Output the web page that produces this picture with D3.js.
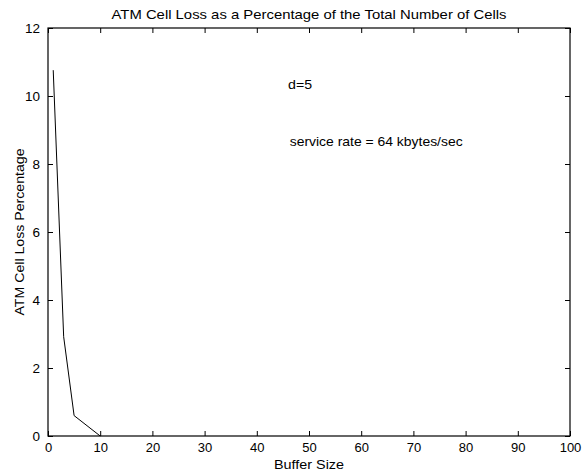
<!DOCTYPE html>
<html><head><meta charset="utf-8">
<script src="https://cdn.jsdelivr.net/npm/d3@7"></script>
<style>body{margin:0;background:#fff}svg{display:block}text{font-family:"Liberation Sans",Arial,Helvetica,sans-serif;fill:#000}</style>
</head><body>
<script>
const bufferSize = [1, 3, 5, 10];
const lossPct = [10.76, 2.92, 0.6, 0];
const xTicks = [0,10,20,30,40,50,60,70,80,90,100];
const yTicks = [0,2,4,6,8,10,12];
const title = "ATM Cell Loss as a Percentage of the Total Number of Cells";
const xLabel = "Buffer Size";
const yLabel = "ATM Cell Loss Percentage";
const notes = [{x:46, y:10.2, t:"d=5", w:24},{x:46.3, y:8.53, t:"service rate = 64 kbytes/sec", w:173}];

const W=584,H=474, L=48,R=570,T=28,B=436;
const svg=d3.select("body").append("svg").attr("width",W).attr("height",H);
const x=d3.scaleLinear().domain([0,100]).range([L,R]);
const y=d3.scaleLinear().domain([0,12]).range([B,T]);

svg.append("rect").attr("x",L).attr("y",T).attr("width",R-L).attr("height",B-T).attr("fill","none").attr("stroke","#000").attr("stroke-width",1.2);

const tl=5;
const ax=(g)=>g.select(".domain").remove();
svg.append("g").attr("transform",`translate(0,${B})`).call(d3.axisBottom(x).tickValues(xTicks).tickSizeInner(-tl).tickSizeOuter(0).tickPadding(7)).call(ax).call(g=>g.selectAll("text").style("font-size","13px"));
svg.append("g").attr("transform",`translate(0,${T})`).call(d3.axisTop(x).tickValues(xTicks).tickSizeInner(-tl).tickSizeOuter(0).tickFormat("")).call(ax);
svg.append("g").attr("transform",`translate(${L},0)`).call(d3.axisLeft(y).tickValues(yTicks).tickSizeInner(-tl).tickSizeOuter(0).tickPadding(8)).call(ax).call(g=>g.selectAll("text").style("font-size","13.5px"));
svg.append("g").attr("transform",`translate(${R},0)`).call(d3.axisRight(y).tickValues(yTicks).tickSizeInner(-tl).tickSizeOuter(0).tickFormat("")).call(ax);
svg.selectAll(".tick line").attr("stroke","#000");
svg.selectAll(".tick text").attr("fill","#000").style("font-family",'"Liberation Sans",Arial,sans-serif');

const pts=bufferSize.map((d,i)=>[d,lossPct[i]]);
svg.append("path").datum(pts).attr("d",d3.line().x(d=>x(d[0])).y(d=>y(d[1]))).attr("fill","none").attr("stroke","#000").attr("stroke-width",1);

svg.append("text").attr("x",(L+R)/2).attr("y",18.5).attr("text-anchor","middle").style("font-size","13px").attr("textLength",395).attr("lengthAdjust","spacingAndGlyphs").text(title);
svg.append("text").attr("x",(L+R)/2).attr("y",469).attr("text-anchor","middle").style("font-size","12.5px").attr("textLength",70).attr("lengthAdjust","spacingAndGlyphs").text(xLabel);
svg.append("text").attr("transform",`translate(24,${(T+B)/2}) rotate(-90)`).attr("text-anchor","middle").style("font-size","13px").attr("textLength",167).attr("lengthAdjust","spacingAndGlyphs").text(yLabel);
notes.forEach(n=>svg.append("text").attr("x",x(n.x)).attr("y",y(n.y)).style("font-size","13px").attr("textLength",n.w).attr("lengthAdjust","spacingAndGlyphs").text(n.t));
</script>
</body></html>
